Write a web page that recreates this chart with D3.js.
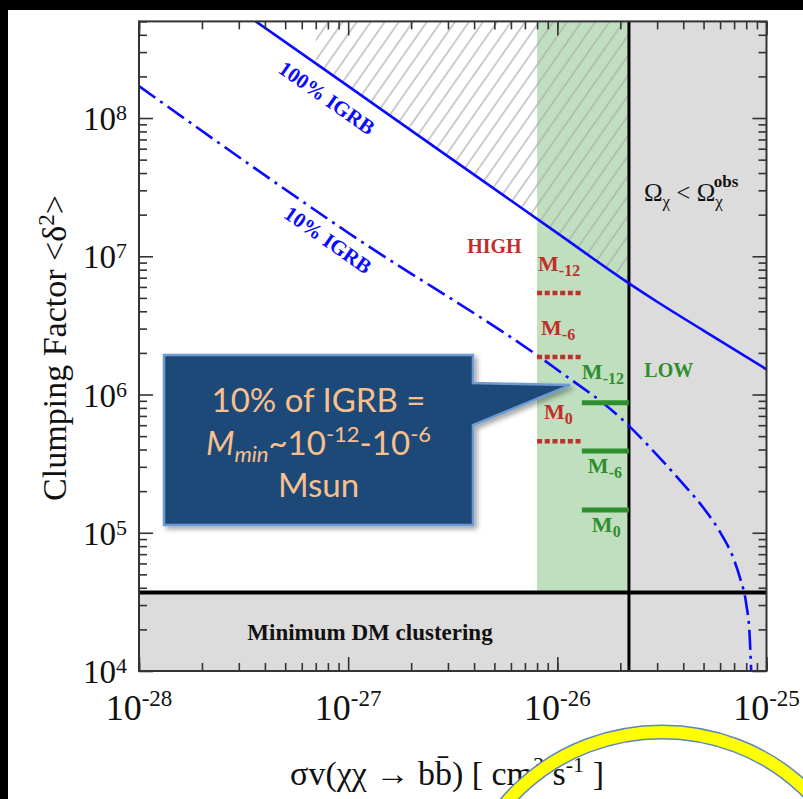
<!DOCTYPE html>
<html>
<head>
<meta charset="utf-8">
<script src="https://cdn.jsdelivr.net/npm/d3@7"></script>
<style>
  html, body { margin: 0; padding: 0; background: #000; }
  svg { display: block; }
</style>
</head>
<body>
<svg id="chart" width="803" height="799"></svg>
<script>
// ---- data -------------------------------------------------------------
// 100% IGRB upper limit on the clumping factor
const sigmaV100 = [3e-28, 1e-27, 3e-27, 1e-26, 2.2e-26, 3e-26, 5e-26, 1e-25];
const clump100  = [6.1e8, 1.70e8, 5.28e7, 1.47e7, 6.37e6, 4.69e6, 2.9e6, 1.52e6];

// 10% IGRB limit
const sigmaV10 = [1e-28, 1e-27, 1e-26, 2e-26, 3e-26, 4e-26, 5e-26, 6e-26, 7e-26, 7.5e-26, 8e-26, 8.3e-26, 8.45e-26];
const clump10  = [1.70e8, 1.48e7, 1.51e6, 6.8e5, 3.65e5, 2.25e5, 1.51e5, 1.01e5, 6.35e4, 4.62e4, 3.05e4, 1.85e4, 1.0e4];

// reference lines and shaded regions
const relicSigmaV  = 2.2e-26;          // thermal relic cross-section
const minClumping  = 3.7e4;            // minimum DM clustering
const bandSigmaV   = [8e-27, 2.2e-26]; // favoured band
const hatchSigmaV  = 7e-28;            // start of the excluded (hatched) region

// clumping predictions for different minimum halo masses
const massLabels  = ['-12', '-6', '0'];
const highClump   = [5.42e6, 1.87e6, 4.6e5];
const highSpan    = [8e-27, 1.32e-26];
const lowClump    = [8.7e5, 3.9e5, 1.46e5];
const lowSpan     = [1.31e-26, 2.2e-26];

// axes
const xMajorTicks = [1e-28, 1e-27, 1e-26, 1e-25];
const xMajorExp   = ['-28', '-27', '-26', '-25'];
const yMajorTicks = [1e4, 1e5, 1e6, 1e7, 1e8];
const yMajorExp   = ['4', '5', '6', '7', '8'];

// ---- layout -----------------------------------------------------------
const svg = d3.select('#chart');
const x = d3.scaleLog().domain([1e-28, 1e-25]).range([139, 766.5]);
const y = d3.scaleLog().domain([1e4, 5e8]).range([671, 21.4]);
const [xl, xr] = x.range();
const [yb, yt] = y.range();

const serif = "'Liberation Serif', 'Times New Roman', serif";
const blue = '#0a0aff';
const red = '#c0302a';
const green = '#2f8f2f';

svg.append('rect').attr('width', 803).attr('height', 799).attr('fill', '#000');
svg.append('rect').attr('x', 8).attr('y', 10).attr('width', 795).attr('height', 789).attr('fill', '#fff');

const defs = svg.append('defs');
const hatch = defs.append('pattern')
  .attr('id', 'hatch')
  .attr('patternUnits', 'userSpaceOnUse')
  .attr('width', 11.5).attr('height', 20)
  .attr('patternTransform', 'rotate(35)');
hatch.append('line')
  .attr('x1', 5.75).attr('y1', -2).attr('x2', 5.75).attr('y2', 22)
  .attr('stroke', '#ababab').attr('stroke-width', 1.2);

defs.append('clipPath').attr('id', 'plotClip')
  .append('rect').attr('x', xl).attr('y', yt).attr('width', xr - xl).attr('height', yb - yt);
defs.append('clipPath').attr('id', 'hatchClip')
  .append('rect').attr('x', x(hatchSigmaV)).attr('y', yt)
  .attr('width', x(relicSigmaV) - x(hatchSigmaV)).attr('height', yb - yt);

const shadow = defs.append('filter').attr('id', 'shadow')
  .attr('x', '-10%').attr('y', '-10%').attr('width', '130%').attr('height', '130%');
shadow.append('feDropShadow').attr('dx', 3).attr('dy', 3).attr('stdDeviation', 2.5)
  .attr('flood-color', '#000').attr('flood-opacity', 0.35);

// ---- shaded regions ---------------------------------------------------
const plot = svg.append('g').attr('clip-path', 'url(#plotClip)');
plot.append('rect')  // favoured band
  .attr('x', x(bandSigmaV[0])).attr('y', yt)
  .attr('width', x(bandSigmaV[1]) - x(bandSigmaV[0])).attr('height', y(minClumping) - yt)
  .attr('fill', '#bfdfbf');
plot.append('rect')  // over-annihilation (under-abundant relic)
  .attr('x', x(relicSigmaV)).attr('y', yt)
  .attr('width', xr - x(relicSigmaV)).attr('height', yb - yt)
  .attr('fill', '#dcdcdc');
plot.append('rect')  // below minimum clustering
  .attr('x', xl).attr('y', y(minClumping))
  .attr('width', xr - xl).attr('height', yb - y(minClumping))
  .attr('fill', '#dcdcdc');

const pts100 = sigmaV100.map((s, i) => [s, clump100[i]]);
const pts10 = sigmaV10.map((s, i) => [s, clump10[i]]);

plot.append('g').attr('clip-path', 'url(#hatchClip)')
  .append('path')
  .datum(pts100)
  .attr('d', d3.area().x(d => x(d[0])).y0(yt - 5).y1(d => y(d[1])).curve(d3.curveMonotoneX))
  .attr('fill', 'url(#hatch)');

// ---- reference lines --------------------------------------------------
plot.append('line')
  .attr('x1', xl).attr('x2', xr).attr('y1', y(minClumping)).attr('y2', y(minClumping))
  .attr('stroke', '#000').attr('stroke-width', 4);
plot.append('line')
  .attr('x1', x(relicSigmaV)).attr('x2', x(relicSigmaV)).attr('y1', yt).attr('y2', yb)
  .attr('stroke', '#000').attr('stroke-width', 3);

// ---- IGRB limits ------------------------------------------------------
const line = d3.line().x(d => x(d[0])).y(d => y(d[1])).curve(d3.curveMonotoneX);
plot.append('path').datum(pts100).attr('d', line)
  .attr('fill', 'none').attr('stroke', blue).attr('stroke-width', 2.6);
plot.append('path').datum(pts10).attr('d', line)
  .attr('fill', 'none').attr('stroke', blue).attr('stroke-width', 2.6)
  .attr('stroke-dasharray', '20,6,3,6');

// ---- mass markers -----------------------------------------------------
plot.selectAll('.high').data(highClump).join('line')
  .attr('x1', x(highSpan[0])).attr('x2', x(highSpan[1]))
  .attr('y1', d => y(d)).attr('y2', d => y(d))
  .attr('stroke', red).attr('stroke-width', 4.5).attr('stroke-dasharray', '5,2.7');
plot.selectAll('.low').data(lowClump).join('line')
  .attr('x1', x(lowSpan[0])).attr('x2', x(lowSpan[1]))
  .attr('y1', d => y(d)).attr('y2', d => y(d))
  .attr('stroke', green).attr('stroke-width', 5);

function massLabel(g, px, py, sub, color) {
  const t = g.append('text').attr('x', px).attr('y', py)
    .attr('font-family', serif).attr('font-weight', 'bold').attr('font-size', 22)
    .attr('fill', color);
  t.append('tspan').text('M');
  t.append('tspan').attr('dy', 5).attr('font-size', 16).text(sub);
}
const labels = svg.append('g');
highClump.forEach((c, i) => massLabel(labels, x(highSpan[0]) + 1 + i * 3, y(c) - 22, massLabels[i], red));
lowClump.forEach((c, i) => massLabel(labels, x(lowSpan[0]) + (i ? 6 + 4 * (i - 1) : 0), i ? y(c) + 22 : y(c) - 24, massLabels[i], green));

labels.append('text').attr('x', x(5e-27)).attr('y', y(1.05e7))
  .attr('font-family', serif).attr('font-weight', 'bold').attr('font-size', 20)
  .attr('fill', red).attr('text-anchor', 'middle').text('HIGH');
labels.append('text').attr('x', x(3.41e-26)).attr('y', y(lowClump[0]) - 26)
  .attr('font-family', serif).attr('font-weight', 'bold').attr('font-size', 20)
  .attr('fill', green).attr('text-anchor', 'middle').text('LOW');

// line labels, set along each curve
labels.append('text')
  .attr('transform', `translate(${x(7.9e-28)},98) rotate(35)`)
  .attr('font-family', serif).attr('font-weight', 'bold').attr('font-size', 21)
  .attr('fill', blue).attr('text-anchor', 'middle').attr('dominant-baseline', 'central')
  .text('100% IGRB');
labels.append('text')
  .attr('transform', `translate(${x(8.0e-28)},240) rotate(35)`)
  .attr('font-family', serif).attr('font-weight', 'bold').attr('font-size', 21)
  .attr('fill', blue).attr('text-anchor', 'middle').attr('dominant-baseline', 'central')
  .text('10% IGRB');

// relic abundance label
const om = labels.append('text').attr('x', x(relicSigmaV) + 15).attr('y', 201)
  .attr('font-family', serif).attr('font-size', 25).attr('fill', '#111');
om.append('tspan').text('Ω');
om.append('tspan').attr('dy', 6).attr('font-size', 17).text('χ');
om.append('tspan').attr('dy', -6).text(' < Ω');
om.append('tspan').attr('dy', 6).attr('font-size', 17).text('χ');
om.append('tspan').attr('dx', -9).attr('dy', -20).attr('font-size', 17).attr('font-weight', 'bold').text('obs');

labels.append('text').attr('x', 370).attr('y', 640)
  .attr('font-family', serif).attr('font-weight', 'bold').attr('font-size', 23)
  .attr('fill', '#111').attr('text-anchor', 'middle').text('Minimum DM clustering');

// ---- frame and ticks --------------------------------------------------
const tickStroke = g => g.call(s => s.select('.domain').remove())
  .selectAll('line').attr('stroke', '#333').attr('stroke-width', 1.6);
const xMinor = x.ticks().filter(v => !xMajorTicks.includes(v));
const yMinor = y.ticks().filter(v => !yMajorTicks.some(m => Math.abs(m - v) / m < 1e-9));

[[d3.axisBottom, `translate(0,${yb})`], [d3.axisTop, `translate(0,${yt})`]].forEach(([ax, tr]) => {
  svg.append('g').attr('transform', tr).call(ax(x).tickValues(xMinor).tickSize(-8).tickFormat('')).call(tickStroke);
  svg.append('g').attr('transform', tr).call(ax(x).tickValues(xMajorTicks).tickSize(-14).tickFormat('')).call(tickStroke);
});
[[d3.axisLeft, `translate(${xl},0)`], [d3.axisRight, `translate(${xr},0)`]].forEach(([ax, tr]) => {
  svg.append('g').attr('transform', tr).call(ax(y).tickValues(yMinor).tickSize(-8).tickFormat('')).call(tickStroke);
  svg.append('g').attr('transform', tr).call(ax(y).tickValues(yMajorTicks).tickSize(-14).tickFormat('')).call(tickStroke);
});
svg.append('rect').attr('x', xl).attr('y', yt).attr('width', xr - xl).attr('height', yb - yt)
  .attr('fill', 'none').attr('stroke', '#333').attr('stroke-width', 2);

// tick labels
xMajorTicks.forEach((v, i) => {
  const t = svg.append('text').attr('x', x(v)).attr('y', 720)
    .attr('font-family', serif).attr('font-size', 36).attr('fill', '#111').attr('text-anchor', 'middle');
  t.append('tspan').text('10');
  t.append('tspan').attr('dy', -14).attr('font-size', 23).text(xMajorExp[i]);
});
yMajorTicks.forEach((v, i) => {
  const t = svg.append('text').attr('x', 127).attr('y', y(v) + 12)
    .attr('font-family', serif).attr('font-size', 33).attr('fill', '#111').attr('text-anchor', 'end');
  t.append('tspan').text('10');
  t.append('tspan').attr('dy', -10).attr('font-size', 22).text(yMajorExp[i]);
});

// axis titles
const yt1 = svg.append('text').attr('transform', 'translate(66,348) rotate(-90)')
  .attr('font-family', serif).attr('font-size', 34).attr('fill', '#111').attr('text-anchor', 'middle');
yt1.append('tspan').text('Clumping Factor <δ');
yt1.append('tspan').attr('dy', -12).attr('font-size', 23).text('2');
yt1.append('tspan').attr('dy', 12).text('>');

const xt = svg.append('text').attr('x', 447).attr('y', 785)
  .attr('font-family', serif).attr('font-size', 34).attr('fill', '#111').attr('text-anchor', 'middle');
xt.append('tspan').text('σv(χχ → bb̄) [ cm');
xt.append('tspan').attr('dy', -13).attr('font-size', 22).text('3');
xt.append('tspan').attr('dy', 13).text(' s');
xt.append('tspan').attr('dy', -13).attr('font-size', 22).text('-1');
xt.append('tspan').attr('dy', 13).text(' ]');

// ---- callout ----------------------------------------------------------
const tip = [x(1.15e-26), y(1.17e6)];
const box = { l: 164, t: 355, r: 473, b: 525, p1: 383, p2: 425 };
const callout = svg.append('g');
callout.append('path')
  .attr('d', `M${box.l},${box.t}H${box.r}V${box.p1}L${tip[0]},${tip[1]}L${box.r},${box.p2}V${box.b}H${box.l}Z`)
  .attr('fill', '#1f4a78').attr('stroke', '#6d9bd1').attr('stroke-width', 2.5)
  .attr('filter', 'url(#shadow)');
const sans = "Lato, 'Open Sans', sans-serif";
const cx = (box.l + box.r) / 2;
callout.append('text').attr('x', cx).attr('y', 412).attr('text-anchor', 'middle')
  .attr('font-family', sans).attr('font-size', 33).attr('fill', '#f9c08e').text('10% of IGRB =');
const l2 = callout.append('text').attr('x', cx).attr('y', 455).attr('text-anchor', 'middle')
  .attr('font-family', sans).attr('font-size', 33).attr('fill', '#f9c08e');
l2.append('tspan').attr('font-style', 'italic').text('M');
l2.append('tspan').attr('font-style', 'italic').attr('font-size', 22).attr('dy', 7).text('min');
l2.append('tspan').attr('dy', -7).text('~10');
l2.append('tspan').attr('font-size', 22).attr('dy', -13).text('-12');
l2.append('tspan').attr('dy', 13).text('-10');
l2.append('tspan').attr('font-size', 22).attr('dy', -13).text('-6');
callout.append('text').attr('x', cx).attr('y', 497).attr('text-anchor', 'middle')
  .attr('font-family', sans).attr('font-size', 33).attr('fill', '#f9c08e').text('Msun');

// ---- highlight ring ---------------------------------------------------
const ring = svg.append('g').attr('transform', 'translate(662,922)');
ring.append('ellipse').attr('rx', 200).attr('ry', 190)
  .attr('fill', 'none').attr('stroke', '#5b86c0').attr('stroke-width', 15);
ring.append('ellipse').attr('rx', 200).attr('ry', 190)
  .attr('fill', 'none').attr('stroke', '#ffff00').attr('stroke-width', 12);
</script>
</body>
</html>
